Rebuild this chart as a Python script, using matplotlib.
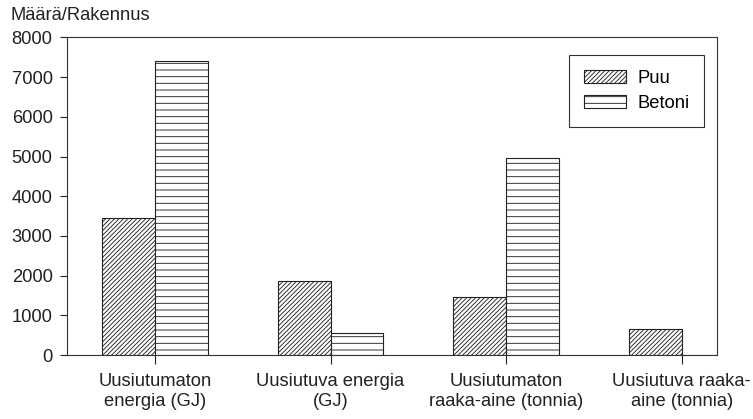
import matplotlib
matplotlib.use("Agg")
import matplotlib.pyplot as plt
import numpy as np

categories = ["Uusiutumaton\nenergia (GJ)", "Uusiutuva energia\n(GJ)",
              "Uusiutumaton\nraaka-aine (tonnia)", "Uusiutuva raaka-\naine (tonnia)"]
puu = [3450, 1870, 1470, 660]
betoni = [7420, 560, 4960, 0]
yticks = [0, 1000, 2000, 3000, 4000, 5000, 6000, 7000, 8000]

plt.rcParams['font.family'] = ['Liberation Sans', 'DejaVu Sans']
plt.rcParams['hatch.linewidth'] = 0.8
plt.rcParams['hatch.color'] = '#222222'

DPI = 80
W, H = 753, 419
fig = plt.figure(figsize=(W / DPI, H / DPI), dpi=DPI)
ax = fig.add_axes([67 / W, (H - 355) / H, (717 - 67) / W, (355 - 37.5) / H])

x = np.arange(len(categories))
bw = 0.30
ax.bar(x - bw / 2, puu, bw, facecolor='white', edgecolor='#222222', hatch='//////',
       linewidth=1.0, label='Puu')
ax.bar(x + bw / 2, betoni, bw, facecolor='white', edgecolor='#222222', hatch='--',
       linewidth=1.0, label='Betoni')

ax.set_xlim(-0.5, 3.2)
ax.set_ylim(0, 8000)
ax.set_yticks(yticks)
ax.set_yticklabels([str(v) for v in yticks])
ax.set_xticks(x)
ax.set_xticklabels(categories, multialignment='center', linespacing=1.25)

fs = 16.5
ax.tick_params(axis='y', direction='out', length=6, width=1, pad=7, labelsize=fs, colors='#222222')
ax.tick_params(axis='x', direction='out', length=8, width=1, pad=8, labelsize=fs, colors='#222222')
for s in ax.spines.values():
    s.set_linewidth(1.0)
    s.set_color('#333333')

fig.text(10 / W, 1 - 15 / H, "Määrä/Rakennus", fontsize=fs, va='center', ha='left', color='#222222')

leg = ax.legend(loc='upper right', bbox_to_anchor=(0.98, 0.945), borderaxespad=0,
                fancybox=False, framealpha=1, edgecolor='#333333', fontsize=fs,
                handlelength=2.3, handleheight=0.75, labelspacing=0.45,
                handletextpad=0.6, borderpad=0.8)
leg.get_frame().set_linewidth(1.0)

fig.savefig("out.png", dpi=DPI)
